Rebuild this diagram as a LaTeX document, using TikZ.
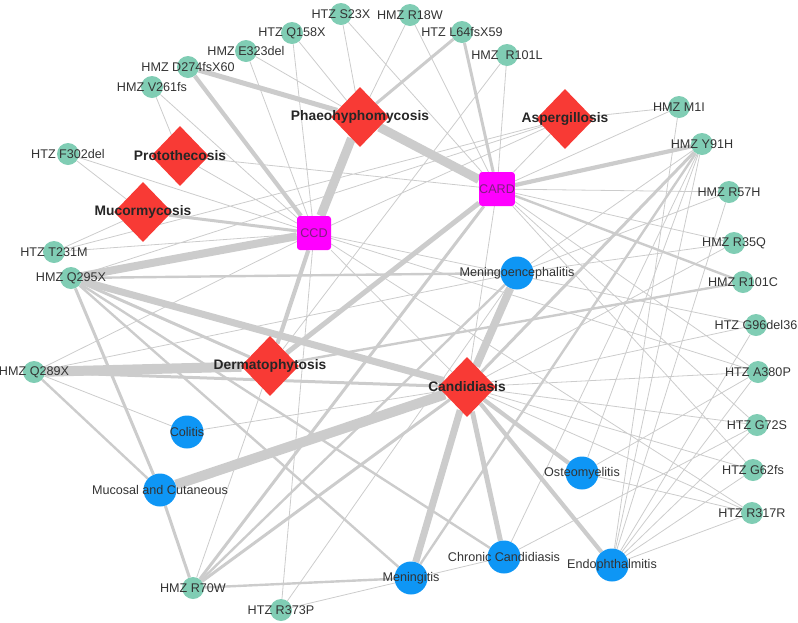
\documentclass[tikz,border=0pt]{standalone}
\usepackage{fontspec}
\setmainfont{Liberation Sans}
\usepackage{tikz}
\usetikzlibrary{shapes.geometric,backgrounds}
\definecolor{mutgreen}{HTML}{80CDB4}
\definecolor{disred}{HTML}{F83A35}
\definecolor{dompink}{HTML}{FF00FF}
\definecolor{domtext}{HTML}{7F1F7F}
\definecolor{formblue}{HTML}{0E96F5}
\definecolor{edgegrey}{HTML}{CCCCCC}
\definecolor{labgrey}{HTML}{333333}

\begin{document}
\begin{tikzpicture}[x=1pt,y=-1pt,
  mutlab/.style={font=\fontsize{12.6}{14}\selectfont,text=labgrey},
  dislab/.style={font=\fontsize{13.8}{16}\selectfont\bfseries,text=black!85},
  mut/.style={circle,fill=mutgreen,minimum size=22pt,inner sep=0pt,
    label={[mutlab]center:#1}},
  dis/.style={diamond,fill=disred,minimum width=58pt,minimum height=60pt,
    inner sep=0pt,label={[dislab]center:#1}},
  dom/.style={rectangle,rounded corners=3pt,fill=dompink,minimum size=34pt,
    inner sep=0pt,text=domtext,font=\fontsize{12.6}{14}\selectfont},
  form/.style={circle,fill=formblue,minimum size=33pt,inner sep=0pt,
    label={[mutlab]center:#1}},
  link/.style={edgegrey,line width=#1},
  link/.default=0.8pt]
\useasboundingbox (0,0) rectangle (798,622);
%
% mutations
\node[mut=HTZ S23X] (s23x) at (341,14) {};
\node[mut=HMZ R18W] (r18w) at (410,15) {};
\node[mut=HTZ L64fsX59] (l64fs) at (462,32) {};
\node[mut=HMZ~~R101L] (r101l) at (507,55) {};
\node[mut=HTZ Q158X] (q158x) at (292,33) {};
\node[mut=HMZ E323del] (e323del) at (246,51) {};
\node[mut=HMZ D274fsX60] (d274fs) at (188,67) {};
\node[mut=HMZ V261fs] (v261fs) at (152,87) {};
\node[mut=HTZ F302del] (f302del) at (68,154) {};
\node[mut=HTZ T231M] (t231m) at (54,252) {};
\node[mut=HMZ Q295X] (q295x) at (71,278) {};
\node[mut=HMZ Q289X] (q289x) at (34,372) {};
\node[mut=HMZ R70W] (r70w) at (193,588) {};
\node[mut=HTZ R373P] (r373p) at (281,610) {};
\node[mut=HMZ M1I] (m1i) at (679,107) {};
\node[mut=HMZ Y91H] (y91h) at (702,144) {};
\node[mut=HMZ R57H] (r57h) at (729,192) {};
\node[mut=HMZ R35Q] (r35q) at (734,243) {};
\node[mut=HMZ R101C] (r101c) at (743,282) {};
\node[mut=HTZ G96del36] (g96del) at (756,325) {};
\node[mut=HTZ A380P] (a380p) at (758,372) {};
\node[mut=HTZ G72S] (g72s) at (757,425) {};
\node[mut=HTZ G62fs] (g62fs) at (753,470) {};
\node[mut=HTZ R317R] (r317r) at (752,513) {};
%
% diseases
\node[dis=Phaeohyphomycosis] (phaeo) at (360,117) {};
\node[dis=Protothecosis] (proto) at (180,156) {};
\node[dis=Mucormycosis] (mucor) at (143,212) {};
\node[dis=Aspergillosis] (asper) at (565,119) {};
\node[dis=Dermatophytosis] (dermato) at (270,366) {};
\node[dis=Candidiasis] (candi) at (467,387) {};
%
% domains
\node[dom] (ccd) at (314,233) {CCD};
\node[dom] (card) at (497,189) {CARD};
%
% clinical forms
\node[form=Meningoencephalitis] (menenc) at (517,273) {};
\node[form=Colitis] (colitis) at (187,432) {};
\node[form=Mucosal and Cutaneous] (mucosal) at (160,490) {};
\node[form=Meningitis] (mening) at (411,578) {};
\node[form=Chronic Candidiasis] (chronic) at (504,557) {};
\node[form=Osteomyelitis] (osteo) at (582,473) {};
\node[form=Endophthalmitis] (endo) at (612,565) {};
%
\begin{pgfonlayer}{background}
\draw[link=10pt] (q289x) -- (dermato) (mucosal) -- (candi);
\draw[link=9pt] (ccd) -- (phaeo) (card) -- (phaeo);
\draw[link=8pt] (q295x) -- (ccd) (menenc) -- (candi);
\draw[link=7pt] (q295x) -- (candi) (mening) -- (candi);
\draw[link=5pt] (chronic) -- (candi) (card) -- (dermato) (d274fs) -- (phaeo);
\draw[link=4.2pt] (endo) -- (candi) (osteo) -- (candi) (ccd) -- (dermato)
  (d274fs) -- (ccd) (card) -- (y91h);
\draw[link=3pt] (l64fs) -- (phaeo) (l64fs) -- (card) (ccd) -- (mucor)
  (q295x) -- (dermato) (q295x) -- (mucosal) (q289x) -- (candi)
  (r70w) -- (mucosal) (r70w) -- (card) (r70w) -- (candi) (y91h) -- (candi);
\draw[link=2.4pt] (q295x) -- (mening) (q295x) -- (chronic) (q295x) -- (menenc)
  (q289x) -- (mucosal) (r70w) -- (menenc) (r70w) -- (mening)
  (y91h) -- (mening) (card) -- (r101c) (r101c) -- (dermato);
\draw[link] (s23x) -- (phaeo) (s23x) -- (card) (r18w) -- (phaeo) (r18w) -- (card)
  (r101l) -- (card) (r101l) -- (dermato) (q158x) -- (ccd) (q158x) -- (phaeo)
  (e323del) -- (ccd) (e323del) -- (phaeo) (v261fs) -- (proto) (v261fs) -- (ccd)
  (f302del) -- (mucor) (f302del) -- (ccd) (t231m) -- (mucor) (t231m) -- (ccd)
  (proto) -- (ccd) (proto) -- (card) (asper) -- (card) (asper) -- (ccd)
  (asper) -- (t231m) (asper) -- (q295x) (m1i) -- (asper) (m1i) -- (card)
  (m1i) -- (endo) (q289x) -- (colitis) (q289x) -- (ccd) (q289x) -- (menenc)
  (colitis) -- (candi) (r70w) -- (dermato) (r373p) -- (ccd) (r373p) -- (menenc)
  (r373p) -- (chronic) (card) -- (candi) (ccd) -- (candi);
\draw[link] (y91h) -- (osteo) (y91h) -- (endo) (y91h) -- (menenc) (y91h) -- (chronic)
  (r57h) -- (card) (r57h) -- (menenc) (r57h) -- (endo)
  (r35q) -- (card) (r35q) -- (menenc) (r35q) -- (candi)
  (g96del) -- (ccd) (g96del) -- (candi) (g96del) -- (endo)
  (a380p) -- (card) (a380p) -- (ccd) (a380p) -- (candi) (a380p) -- (osteo) (a380p) -- (endo)
  (g72s) -- (card) (g72s) -- (candi) (g72s) -- (endo) (g72s) -- (chronic)
  (g62fs) -- (card) (g62fs) -- (candi) (g62fs) -- (endo)
  (r317r) -- (ccd) (r317r) -- (candi) (r317r) -- (osteo) (r317r) -- (endo);
\end{pgfonlayer}
%
\end{tikzpicture}
\end{document}
